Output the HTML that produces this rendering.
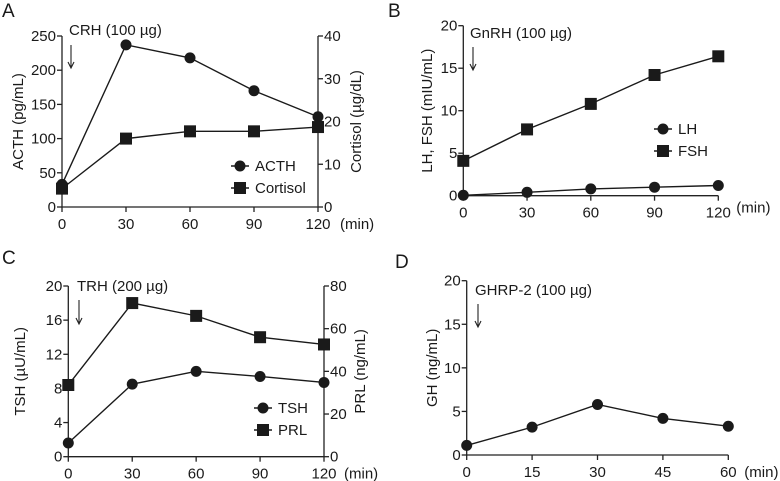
<!DOCTYPE html>
<html><head><meta charset="utf-8"><style>
body{margin:0;background:#fff}
svg{display:block}
text{font-family:"Liberation Sans",sans-serif;fill:#1a1a1a}
</style></head><body>
<svg id="s" width="780" height="481" viewBox="0 0 780 481" xmlns="http://www.w3.org/2000/svg"></svg>
<script>
const timesA=[0,30,60,90,120];
const acth=[33,237,218,170,132];
const cortisol=[4.3,16,17.7,17.7,18.7];
const timesB=[0,30,60,90,120];
const lh=[0.05,0.4,0.8,1.0,1.2];
const fsh=[4.1,7.8,10.8,14.2,16.4];
const timesC=[0,30,60,90,120];
const tsh=[1.6,8.5,10.0,9.4,8.7];
const prl=[33.6,72,66,56,52.6];
const timesD=[0,15,30,45,60];
const gh=[1.1,3.2,5.8,4.2,3.3];
const ticksA=[0,50,100,150,200,250], ticksAr=[0,10,20,30,40];
const ticksB=[0,5,10,15,20];
const ticksC=[0,4,8,12,16,20], ticksCr=[0,20,40,60,80];
const ticksD=[0,5,10,15,20];

const NS="http://www.w3.org/2000/svg", S=document.getElementById('s');
function el(t,a,p){const e=document.createElementNS(NS,t);for(const k in a)e.setAttribute(k,a[k]);(p||S).appendChild(e);return e;}
function txt(s,a,p){const e=el('text',a,p);e.textContent=s;return e;}

function panel(cfg){
  const g=el('g',{});
  
  
  const {x0,x1,y0,y1,xmax,ymax}=cfg;
  const X=v=>x0+(x1-x0)*v/xmax, Y=v=>y0-(y0-y1)*v/ymax;
  const YR=cfg.rmax?(v=>y0-(y0-y1)*v/cfg.rmax):null;
  const ax=el('path',{d:`M${x0} ${y1}V${y0}H${x1}`+(cfg.rmax?`M${x1} ${y0}V${y1}`:''),stroke:'#222','stroke-width':1.3,fill:'none'},g);
  
  cfg.yt.forEach(v=>{el('line',{x1:x0-5,x2:x0,y1:Y(v),y2:Y(v),stroke:'#222','stroke-width':1.3},g);
    const t=txt(String(v),{x:x0-6,y:Y(v)+5,'text-anchor':'end','font-size':15},g);
    });
  if(cfg.rmax)cfg.rt.forEach(v=>{el('line',{x1:x1,x2:x1+5,y1:YR(v),y2:YR(v),stroke:'#222','stroke-width':1.3},g);
    const t=txt(String(v),{x:x1+6,y:YR(v)+5,'font-size':15},g);
    });
  cfg.times.forEach(v=>{el('line',{x1:X(v),x2:X(v),y1:y0,y2:y0+5,stroke:'#222','stroke-width':1.3},g);
    const t=txt(String(v),{x:X(v),y:y0+22,'text-anchor':'middle','font-size':15},g);
    });
  const mu=txt('(min)',{x:x1+cfg.minOff,y:y0+cfg.minDy,'font-size':15},g);
  
  const yl=txt(cfg.ytitle,{x:0,y:0,'text-anchor':'middle','font-size':15,transform:`translate(${cfg.ytx},${(y0+y1)/2}) rotate(-90)`},g);
  
  if(cfg.rtitle){const r=txt(cfg.rtitle,{x:0,y:0,'text-anchor':'middle','font-size':15,transform:`translate(${cfg.rtx},${(y0+y1)/2}) rotate(-90)`},g);
    }
  const L=txt(cfg.id,{x:cfg.lx,y:cfg.ly,'font-size':19},g);
  
  const st=txt(cfg.stim,{x:cfg.sx,y:cfg.sy,'font-size':15},g);
  
  const ar=el('path',{d:`M${cfg.axx} ${cfg.ay1}V${cfg.ay2}M${cfg.axx-3} ${cfg.ay2-6}L${cfg.axx} ${cfg.ay2}L${cfg.axx+3} ${cfg.ay2-6}`,stroke:'#222','stroke-width':1.1,fill:'none'},g);
  
  cfg.series.forEach(s=>{
    const sy=s.right?YR:Y;
    const pts=cfg.times.map((t,i)=>X(t)+','+sy(s.data[i])).join(' ');
    const pl=el('polyline',{points:pts,fill:'none',stroke:'#1a1a1a','stroke-width':1.4},g);
    
    cfg.times.forEach((t,i)=>{
      const m=marker(s.shape,X(t),sy(s.data[i]),g);
      });
  });
  if(cfg.leg)cfg.series.forEach((s,i)=>{
    const ly=cfg.leg[1]+i*22;
    el('line',{x1:cfg.leg[0]-9,x2:cfg.leg[0]+9,y1:ly,y2:ly,stroke:'#1a1a1a','stroke-width':1.4},g);
    const m=marker(s.shape,cfg.leg[0],ly,g);
    const t=txt(s.label,{x:cfg.leg[0]+15,y:ly+5,'font-size':15},g);
    
  });
}
function marker(shape,x,y,g){
  return shape==='c'?el('circle',{cx:x,cy:y,r:5.5,fill:'#1a1a1a'},g):el('rect',{x:x-6,y:y-6,width:12,height:12,fill:'#1a1a1a'},g);
}
panel({id:'A',x0:62,x1:318,y0:207,y1:36,xmax:120,ymax:250,rmax:40,times:timesA,yt:ticksA,rt:ticksAr,
  ytitle:'ACTH (pg/mL)',ytx:23,rtitle:'Cortisol (µg/dL)',rtx:361,minOff:22,minDy:22,lx:2,ly:17,
  stim:'CRH (100 µg)',sx:69,sy:35,axx:71,ay1:45,ay2:68,leg:[240,166],
  series:[{name:'acth',label:'ACTH',shape:'c',data:acth},{name:'cortisol',label:'Cortisol',shape:'s',data:cortisol,right:true}]});
panel({id:'B',x0:463.3,x1:718.3,y0:195.7,y1:25.7,xmax:120,ymax:20,times:timesB,yt:ticksB,
  ytitle:'LH, FSH (mIU/mL)',ytx:432,minOff:18,minDy:17,lx:388,ly:17,
  stim:'GnRH (100 µg)',sx:470,sy:38,axx:473,ay1:47,ay2:70,leg:[663,129],
  series:[{name:'lh',label:'LH',shape:'c',data:lh},{name:'fsh',label:'FSH',shape:'s',data:fsh}]});
panel({id:'C',x0:68.3,x1:324,y0:456.7,y1:286,xmax:120,ymax:20,rmax:80,times:timesC,yt:ticksC,rt:ticksCr,
  ytitle:'TSH (µU/mL)',ytx:25,rtitle:'PRL (ng/mL)',rtx:365,minOff:20,minDy:22,lx:2,ly:264,
  stim:'TRH (200 µg)',sx:77,sy:291,axx:79,ay1:300,ay2:324,leg:[263,408],
  series:[{name:'tsh',label:'TSH',shape:'c',data:tsh},{name:'prl',label:'PRL',shape:'s',data:prl,right:true}]});
panel({id:'D',x0:466.7,x1:728.3,y0:455,y1:280.7,xmax:60,ymax:20,times:timesD,yt:ticksD,
  ytitle:'GH (ng/mL)',ytx:437,minOff:16,minDy:22,lx:395,ly:268,
  stim:'GHRP-2 (100 µg)',sx:475,sy:295,axx:478,ay1:304,ay2:327,
  series:[{name:'gh',label:'GH',shape:'c',data:gh}]});
</script>
</body></html>
